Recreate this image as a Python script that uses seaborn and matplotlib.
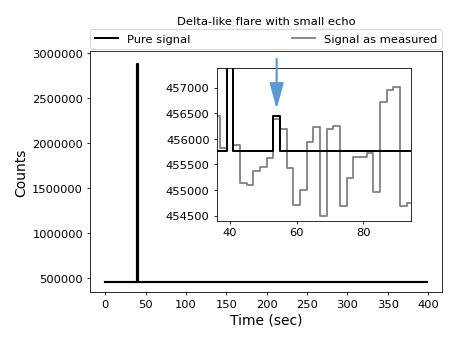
import matplotlib
matplotlib.use("Agg")
import matplotlib.pyplot as plt
import seaborn as sns
import pandas as pd
from matplotlib.lines import Line2D

title = "Delta-like flare with small echo"
pure_label = "Pure signal"
meas_label = "Signal as measured"
xlabel = "Time (sec)"
ylabel = "Counts"

# Pure signal as steps: bin edges (sec) and the level that starts at each edge
pure_edges = [0, 39, 41, 53, 55, 399]
pure_levels = [455770, 2880000, 455770, 456450, 455770, 455770]

# Measured signal, 2-second bins (bin centres)
meas_time = [36, 38, 40, 42, 44, 46, 48, 50, 52, 54, 56, 58, 60, 62, 64, 66,
             68, 70, 72, 74, 76, 78, 80, 82, 84, 86, 88, 90, 92, 94]
meas_counts = [456450, 455812, 2870000, 455877, 455136, 455097, 455364, 455441,
               455623, 456380, 456188, 455422, 454714, 455006, 455942, 456234,
               454500, 456182, 456253, 454695, 455234, 455636, 455636, 455714,
               454954, 456714, 456948, 457006, 454695, 454747]

main_xticks = [0, 50, 100, 150, 200, 250, 300, 350, 400]
main_yticks = [500000, 1000000, 1500000, 2000000, 2500000, 3000000]
inset_xticks = [40, 60, 80]
inset_yticks = [454500, 455000, 455500, 456000, 456500, 457000]

pure_df = pd.DataFrame({"t": pure_edges, "c": pure_levels})
meas_df = pd.DataFrame({"t": meas_time, "c": meas_counts})

FS = 11.6
fig = plt.figure(figsize=(6.4, 4.8), dpi=71.4)
ax = fig.add_axes([0.197, 0.145, 0.7695, 0.704])

sns.lineplot(data=meas_df, x="t", y="c", ax=ax, color="0.5", lw=1.8,
             drawstyle="steps-mid", estimator=None, sort=False)
sns.lineplot(data=pure_df, x="t", y="c", ax=ax, color="black", lw=2.2,
             drawstyle="steps-post", estimator=None, sort=False)
ax.set_xlim(-19, 417)
ax.set_ylim(341000, 3026000)
ax.set_xticks(main_xticks)
ax.set_yticks(main_yticks)
ax.ticklabel_format(style="plain", useOffset=False)
ax.tick_params(labelsize=FS)
ax.set_xlabel(xlabel, fontsize=14)
ax.set_ylabel(ylabel, fontsize=14)
ax.set_title(title, fontsize=FS, pad=27)

handles = [Line2D([], [], color="black", lw=2), Line2D([], [], color="0.5", lw=1.8)]
ax.legend(handles, [pure_label, meas_label], bbox_to_anchor=(0, 1.01, 1, 0.102),
          loc="lower left", ncol=2, mode="expand", borderaxespad=0, fontsize=FS)

ins = fig.add_axes([0.474, 0.354, 0.425, 0.445])
sns.lineplot(data=meas_df, x="t", y="c", ax=ins, color="0.5", lw=1.8,
             drawstyle="steps-mid", estimator=None, sort=False)
sns.lineplot(data=pure_df, x="t", y="c", ax=ins, color="black", lw=2,
             drawstyle="steps-post", estimator=None, sort=False)
ins.set_xlim(36, 94.2)
ins.set_ylim(454400, 457380)
ins.set_xticks(inset_xticks)
ins.set_yticks(inset_yticks)
ins.ticklabel_format(style="plain", useOffset=False)
ins.tick_params(labelsize=FS)
ins.set_xlabel("")
ins.set_ylabel("")
ins.annotate("", xy=(54, 456580), xytext=(54, 457560), annotation_clip=False,
             arrowprops=dict(arrowstyle="-|>,head_length=2.2,head_width=0.6",
                             color="#5b9bd5", lw=2.2, shrinkA=0, shrinkB=0))

fig.savefig("out.png", dpi=71.4)
